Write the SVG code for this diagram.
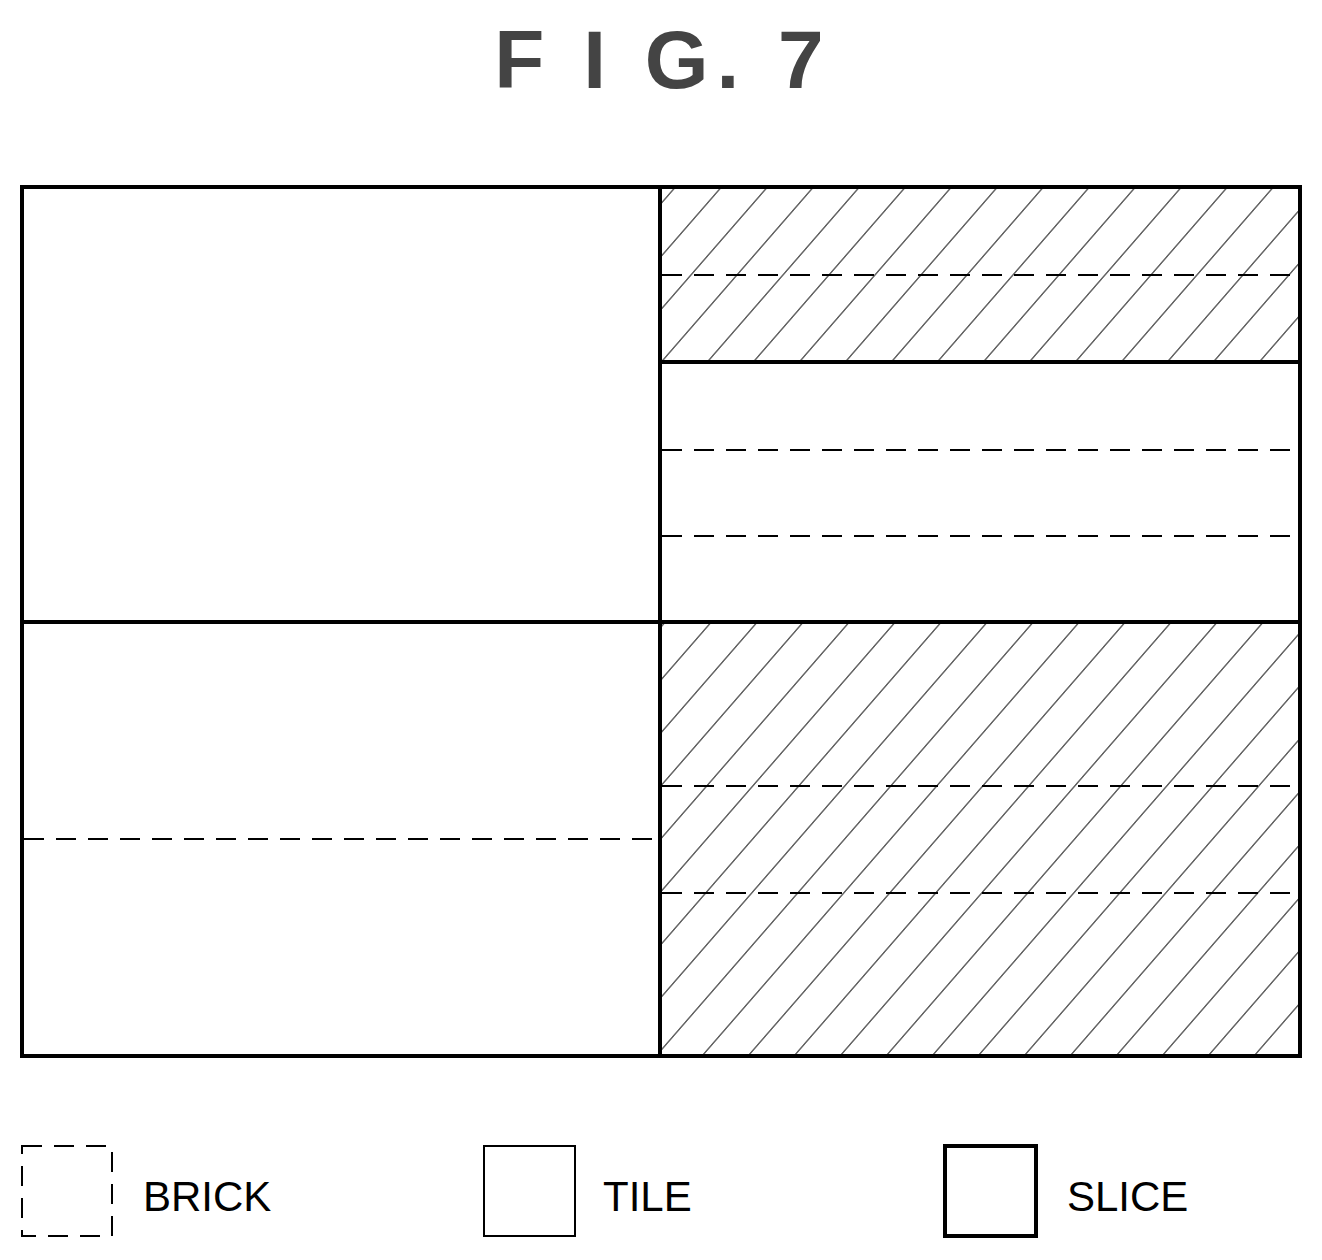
<svg xmlns="http://www.w3.org/2000/svg" width="1322" height="1260" viewBox="0 0 1322 1260">
<defs>
<pattern id="h" patternUnits="userSpaceOnUse" width="46" height="100" patternTransform="skewX(-41)">
<line x1="10" y1="-10" x2="10" y2="110" stroke="#000" stroke-width="1.2"/>
</pattern>
<style>
.s{stroke:#000;stroke-width:4;fill:none}
.t{stroke:#000;stroke-width:2;fill:none}
.d{stroke:#000;stroke-width:2;stroke-dasharray:20 12;fill:none}
.l{font-family:"Liberation Sans",Arial,sans-serif;font-size:42px;fill:#000}
</style>
</defs>
<rect width="1322" height="1260" fill="#fff"/>
<text x="663" y="88" text-anchor="middle" font-family="Liberation Sans,Arial,sans-serif" font-weight="bold" font-size="82" fill="#444" letter-spacing="8">F I G. 7</text>
<g id="hatch">
<rect x="662" y="189" width="636" height="172" fill="url(#h)"/>
<rect x="662" y="624" width="636" height="430" fill="url(#h)"/>
</g>
<g id="connectors">
<line class="d" x1="662" y1="275" x2="1298" y2="275"/>
<line class="d" x1="662" y1="450" x2="1298" y2="450"/>
<line class="d" x1="662" y1="536" x2="1298" y2="536"/>
<line class="d" x1="662" y1="786" x2="1298" y2="786"/>
<line class="d" x1="662" y1="893" x2="1298" y2="893"/>
<line class="d" x1="24" y1="839" x2="660" y2="839"/>
<line class="s" x1="660" y1="187" x2="660" y2="1056"/>
<line class="s" x1="22" y1="622" x2="1300" y2="622"/>
<line class="s" x1="660" y1="362" x2="1300" y2="362"/>
<rect class="s" x="22" y="187" width="1278" height="869"/>
</g>
<g id="legend-brick">
<rect class="d" x="22" y="1146" width="90" height="90" stroke-dasharray="16 10"/>
<text class="l" x="143" y="1211">BRICK</text>
</g>
<g id="legend-tile">
<rect class="t" x="484" y="1146" width="91" height="90"/>
<text class="l" x="603" y="1211">TILE</text>
</g>
<g id="legend-slice">
<rect class="s" x="945" y="1146" width="91" height="90"/>
<text class="l" x="1067" y="1211">SLICE</text>
</g>
</svg>
